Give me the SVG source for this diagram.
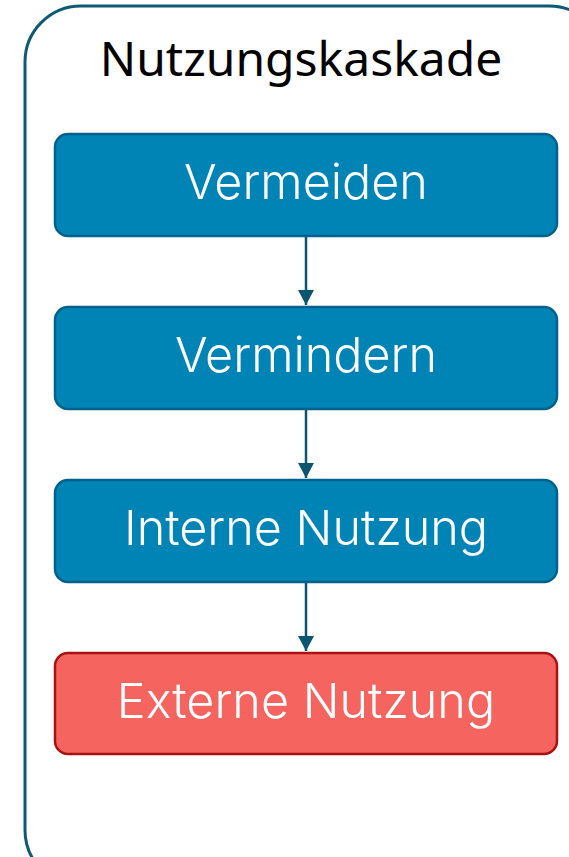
<svg xmlns="http://www.w3.org/2000/svg" width="569" height="857" viewBox="0 0 569 857">
<defs>
<style>
.box{fill:#0083b5;stroke:#00628a;stroke-width:2.5}
.red{fill:#f6645f;stroke:#a81210;stroke-width:2.5}
.lbl{font-family:Inter,"Noto Sans",sans-serif;font-size:48.5px;font-weight:300;fill:#ffffff;text-anchor:middle}
.conn{stroke:#0b5570;stroke-width:2.5;fill:none}
</style>
<marker id="ah" markerWidth="16" markerHeight="16" viewBox="0 0 16 16" refX="15" refY="8" orient="auto" markerUnits="userSpaceOnUse">
<path d="M0,0 L15,8 L0,16 Z" fill="#0b5570"/>
</marker>
</defs>
<g id="container">
<rect x="25" y="6" width="580" height="880" rx="56" ry="56" fill="#ffffff" stroke="#0e5a74" stroke-width="3"/>
<text x="301" y="76" font-family="'Noto Sans','Open Sans',sans-serif" font-size="48" fill="#000000" text-anchor="middle">Nutzungskaskade</text>
</g>
<g id="connectors">
<line class="conn" x1="306" y1="236" x2="306" y2="305" marker-end="url(#ah)"/>
<line class="conn" x1="306" y1="409" x2="306" y2="478" marker-end="url(#ah)"/>
<line class="conn" x1="306" y1="582" x2="306" y2="651" marker-end="url(#ah)"/>
</g>
<g id="n1">
<rect class="box" x="55" y="134" width="502" height="102" rx="13"/>
<text class="lbl" x="306" y="199">Vermeiden</text>
</g>
<g id="n2">
<rect class="box" x="55" y="307" width="502" height="102" rx="13"/>
<text class="lbl" x="306" y="372">Vermindern</text>
</g>
<g id="n3">
<rect class="box" x="55" y="480" width="502" height="102" rx="13"/>
<text class="lbl" x="306" y="545">Interne Nutzung</text>
</g>
<g id="n4">
<rect class="red" x="55" y="653" width="502" height="101" rx="13"/>
<text class="lbl" x="306" y="718">Externe Nutzung</text>
</g>
</svg>
